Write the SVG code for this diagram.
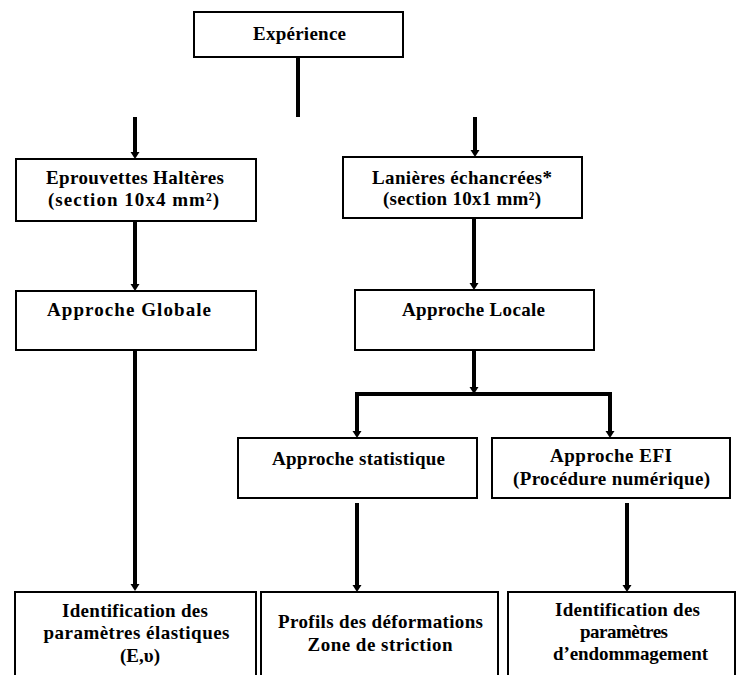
<svg xmlns="http://www.w3.org/2000/svg" width="738" height="675" viewBox="0 0 738 675">
<style>
.box{fill:#fff;stroke:#000;stroke-width:2}
.t{font-family:'Liberation Serif','Times New Roman','DejaVu Serif',serif;font-weight:700;font-size:19px;text-anchor:middle;fill:#000}
.c{fill:none;stroke:#000;stroke-width:4}
.a{marker-end:url(#arr)}
</style>
<defs>
<marker id="arr" markerUnits="userSpaceOnUse" markerWidth="8" markerHeight="10" viewBox="0 -5 8 10" refX="0" refY="0" orient="auto">
<path d="M0,-4.5 L7,0 L0,4.5 z" fill="#000"/>
</marker>
</defs>
<rect width="738" height="675" fill="#fff"/>
<g id="connectors">
<path class="c" d="M298,57 V117"/>
<path class="c a" d="M135,117 V152"/>
<path class="c a" d="M475,117 V150"/>
<path class="c a" d="M135,221 V284"/>
<path class="c a" d="M474,218 V283"/>
<path class="c a" d="M474,350 V387"/>
<path class="c a" d="M474,394 H357 V431"/>
<path class="c a" d="M474,394 H610 V431"/>
<path class="c a" d="M135,350 V584"/>
<path class="c a" d="M357,503 V585"/>
<path class="c a" d="M627,503 V585"/>
</g>
<g id="experience">
<rect class="box" x="194" y="12" width="209" height="45"/>
<text class="t" x="299.5" y="40" textLength="93" lengthAdjust="spacing">Expérience</text>
</g>
<g id="eprouvettes">
<rect class="box" x="16" y="159" width="240" height="62"/>
<text class="t" x="135" y="184" textLength="178" lengthAdjust="spacing">Eprouvettes Haltères</text>
<text class="t" x="133.5" y="206" textLength="171" lengthAdjust="spacing">(section 10x4 mm²)</text>
</g>
<g id="lanieres">
<rect class="box" x="343" y="157" width="239" height="61"/>
<text class="t" x="462" y="184" textLength="180" lengthAdjust="spacing">Lanières échancrées*</text>
<text class="t" x="462" y="205" textLength="158" lengthAdjust="spacing">(section 10x1 mm²)</text>
</g>
<g id="globale">
<rect class="box" x="16" y="291" width="240" height="59"/>
<text class="t" x="129" y="316" textLength="164" lengthAdjust="spacing">Approche Globale</text>
</g>
<g id="locale">
<rect class="box" x="355" y="290" width="239" height="60"/>
<text class="t" x="473.5" y="316" textLength="143" lengthAdjust="spacing">Approche Locale</text>
</g>
<g id="statistique">
<rect class="box" x="238" y="438" width="239" height="60"/>
<text class="t" x="358.5" y="465" textLength="173" lengthAdjust="spacing">Approche statistique</text>
</g>
<g id="efi">
<rect class="box" x="492" y="438" width="238" height="60"/>
<text class="t" x="611" y="462" textLength="122" lengthAdjust="spacing">Approche EFI</text>
<text class="t" x="611.5" y="485" textLength="197" lengthAdjust="spacing">(Procédure numérique)</text>
</g>
<g id="ident-elastiques">
<rect class="box" x="15" y="592" width="241" height="95"/>
<text class="t" x="135" y="617" textLength="146" lengthAdjust="spacing">Identification des</text>
<text class="t" x="136.5" y="639" textLength="186" lengthAdjust="spacing">paramètres élastiques</text>
<text class="t" x="140" y="662">(E,υ)</text>
</g>
<g id="profils">
<rect class="box" x="261" y="592" width="237" height="95"/>
<text class="t" x="380.5" y="628" textLength="205" lengthAdjust="spacing">Profils des déformations</text>
<text class="t" x="380" y="651" textLength="145" lengthAdjust="spacing">Zone de striction</text>
</g>
<g id="ident-endommagement">
<rect class="box" x="508" y="592" width="227" height="95"/>
<text class="t" x="627.5" y="616" textLength="145" lengthAdjust="spacing">Identification des</text>
<text class="t" x="624" y="638" textLength="88" lengthAdjust="spacing">paramètres</text>
<text class="t" x="630.5" y="660" textLength="155" lengthAdjust="spacing">d’endommagement</text>
</g>
</svg>
